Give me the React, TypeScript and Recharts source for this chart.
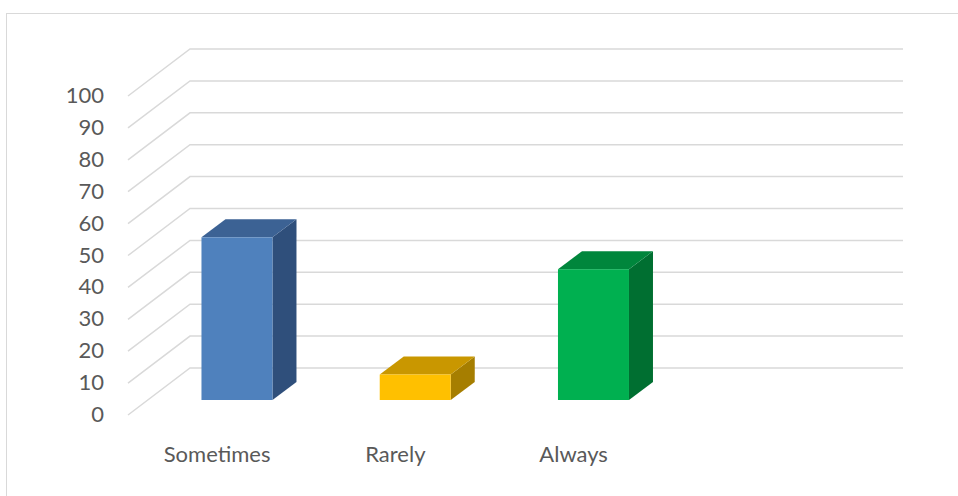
import React from "react";
import { BarChart, Bar, XAxis, YAxis, CartesianGrid, Cell } from "recharts";

const categories = ["Sometimes", "Rarely", "Always", ""];
const values: (number | null)[] = [51, 8, 41, null];
const yTicks = [0, 10, 20, 30, 40, 50, 60, 70, 80, 90, 100];

const frontColors = ["#4f81bd", "#ffc000", "#00b050", "#cccccc"];
const topColors = ["#3c6294", "#c99700", "#00863c", "#aaaaaa"];
const sideColors = ["#2f4f7b", "#a67e00", "#006f31", "#999999"];

const data = categories.map((name, i) => ({ name, value: values[i] }));

// depth of the floor / walls
const DX = 62;
const DY = 47;
// where the bar sits inside the depth, and its own depth
const OX = 20;
const OY = 15;
const BX = 24;
const BY = 18;

const gridColor = "#d9d9d9";
const textColor = "#595959";
const font = "Lato, 'Open Sans', sans-serif";

const gridLine = (p: any) => {
  const { x1, x2, y1 } = p;
  return (
    <polyline
      key={`g-${p.index}`}
      points={`${x1},${y1} ${x1 + DX},${y1 - DY} ${x2 + DX},${y1 - DY}`}
      fill="none"
      stroke={gridColor}
      strokeWidth={1.5}
    />
  );
};

const Box3D = (props: any) => {
  const { x, y, width, height, index, value } = props;
  if (value == null || !width) return null;
  const fx = x + OX;
  const fy = y - OY;
  const bottom = fy + height;
  return (
    <g>
      <polygon
        points={`${fx + width},${fy} ${fx + width + BX},${fy - BY} ${fx + width + BX},${bottom - BY} ${fx + width},${bottom}`}
        fill={sideColors[index]}
      />
      <polygon
        points={`${fx},${fy} ${fx + BX},${fy - BY} ${fx + width + BX},${fy - BY} ${fx + width},${fy}`}
        fill={topColors[index]}
      />
      <rect x={fx} y={fy} width={width} height={height} fill={frontColors[index]} />
    </g>
  );
};

const ValueTick = ({ x, y, payload }: any) => (
  <text x={x} y={y} dy={7} textAnchor="end" fill={textColor} fontSize={22} fontFamily={font}>
    {payload.value}
  </text>
);

const CatTick = ({ x, y, payload }: any) => (
  <text x={x} y={y} dy={47} textAnchor="middle" fill={textColor} fontSize={22} fontFamily={font}>
    {payload.value}
  </text>
);

export default function App() {
  return (
    <div style={{ position: "absolute", left: 0, top: 0, width: 958, height: 496, background: "#fff", overflow: "hidden" }}>
      <div
        style={{
          position: "absolute",
          left: 6,
          top: 13,
          width: 970,
          height: 500,
          border: "1.5px solid #d9d9d9",
        }}
      />
      <div style={{ position: "absolute", left: 0, top: 0 }}>
        <BarChart
          width={958}
          height={496}
          data={data}
          margin={{ top: 96, right: 117, bottom: 51, left: 68 }}
          barCategoryGap="30%"
        >
          <CartesianGrid vertical={false} horizontal={gridLine} />
          <XAxis
            dataKey="name"
            axisLine={false}
            tickLine={false}
            tickSize={0}
            tickMargin={0}
            height={30}
            tick={<CatTick />}
            interval={0}
          />
          <YAxis
            type="number"
            domain={[0, 100]}
            ticks={yTicks}
            axisLine={false}
            tickLine={false}
            tickSize={0}
            tickMargin={24}
            width={60}
            tick={<ValueTick />}
            interval={0}
          />
          <Bar dataKey="value" shape={<Box3D />} isAnimationActive={false}>
            {data.map((d, i) => (
              <Cell key={d.name + i} fill={frontColors[i]} />
            ))}
          </Bar>
        </BarChart>
      </div>
    </div>
  );
}
